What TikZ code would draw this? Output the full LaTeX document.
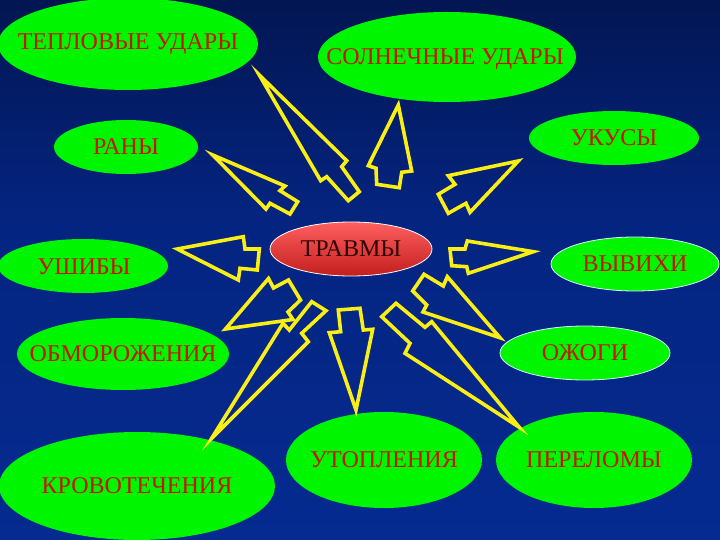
\documentclass[tikz,border=0pt]{standalone}
\usepackage{fontspec}
\setmainfont{Liberation Serif}
\usetikzlibrary{shapes.geometric}
\definecolor{gr}{RGB}{0,245,0}
\definecolor{txt}{RGB}{200,20,0}
\definecolor{yl}{RGB}{250,238,20}
\definecolor{bgtop}{RGB}{0,4,24}
\definecolor{bgmid}{RGB}{4,36,128}
\definecolor{bgbot}{RGB}{6,48,158}
\definecolor{redtop}{RGB}{255,95,95}
\definecolor{redbot}{RGB}{195,30,30}
\definecolor{dtxt}{RGB}{50,0,0}
\pgfdeclareverticalshading{bgsh}{100bp}{color(0bp)=(bgbot); color(55bp)=(bgmid); color(100bp)=(bgtop)}
\begin{document}
\begin{tikzpicture}[x=1pt,y=-1pt,
  blob/.style={ellipse, fill=gr, inner sep=0pt},
  lbl/.style={text=txt, font=\fontsize{24}{26}\selectfont, inner sep=0pt},
  rim/.style={draw=white!85!cyan, line width=0.8pt},
  arr/.style={draw=yl, line width=3.6pt, line join=miter}]
\useasboundingbox (0,0) rectangle (720,540);
\shade[shading=bgsh] (0,0) rectangle (720,540);

% outer ellipses
\node[blob, minimum width=260pt, minimum height=92pt] (teplo) at (128,44) {};
\node[lbl] (teploT) at (teplo) {ТЕПЛОВЫЕ УДАРЫ};
\node[blob, minimum width=258pt, minimum height=90pt] (soln) at (447,57) {};
\node[lbl] (solnT) at (445,59) {СОЛНЕЧНЫЕ УДАРЫ};
\node[blob, minimum width=144pt, minimum height=54pt] (rany) at (126,147) {};
\node[lbl] (ranyT) at (rany) {РАНЫ};
\node[blob, minimum width=170pt, minimum height=54pt] (ukus) at (614,138) {};
\node[lbl] (ukusT) at (ukus) {УКУСЫ};
\node[blob, minimum width=170pt, minimum height=54pt] (ushib) at (83,266) {};
\node[lbl] (ushibT) at (84,267) {УШИБЫ};
\node[blob, rim, minimum width=168pt, minimum height=54pt] (vyvih) at (635,264) {};
\node[lbl] (vyvihT) at (vyvih) {ВЫВИХИ};
\node[blob, minimum width=212pt, minimum height=72pt] (obmor) at (123,354) {};
\node[lbl] (obmorT) at (obmor) {ОБМОРОЖЕНИЯ};
\node[blob, rim, minimum width=170pt, minimum height=54pt] (ozhog) at (585,353) {};
\node[lbl] (ozhogT) at (ozhog) {ОЖОГИ};
\node[blob, minimum width=196pt, minimum height=96pt] (utop) at (384,460) {};
\node[lbl] (utopT) at (utop) {УТОПЛЕНИЯ};
\node[blob, minimum width=196pt, minimum height=96pt] (perel) at (594,460) {};
\node[lbl] (perelT) at (perel) {ПЕРЕЛОМЫ};
\node[blob, minimum width=276pt, minimum height=108pt] (krov) at (137,486) {};
\node[lbl] (krovT) at (krov) {КРОВОТЕЧЕНИЯ};

% centre
\node[ellipse, draw=white, line width=0.8pt, top color=redtop, bottom color=redbot,
      text=dtxt, font=\fontsize{24}{26}\selectfont, inner sep=0pt,
      minimum width=162pt, minimum height=54pt] (travmy) at (351,249) {ТРАВМЫ};

% block arrows
\draw[arr] (259.3,75) -- (346.7,160.7) -- (341.7,166.7) -- (359.3,191.7) -- (348.3,200.7) -- (326.7,176.7) -- (320.7,180.7) -- cycle;
\draw[arr] (398.3,105) -- (411.7,171) -- (401.7,172.3) -- (399.3,187.7) -- (376.7,184.3) -- (376,168.3) -- (368.3,165.7) -- cycle;
\draw[arr] (212.7,155) -- (285,186) -- (280,190.7) -- (297.7,201.7) -- (290,214) -- (270,203.3) -- (266,209) -- cycle;
\draw[arr] (518.3,161) -- (448.3,175.7) -- (455,184.3) -- (438.3,194.3) -- (448.3,213.3) -- (466,203.3) -- (470,212.3) -- cycle;
\draw[arr] (177.3,249) -- (243.3,236.7) -- (245,249) -- (259.3,249) -- (257.3,270) -- (240,268.3) -- (238.3,280) -- cycle;
\draw[arr] (533.3,251.7) -- (467.3,241) -- (465,249) -- (450,249) -- (451.7,265.7) -- (466.7,266.7) -- (468.3,273.3) -- cycle;
\draw[arr] (225.5,329) -- (268.5,278.5) -- (273.5,288) -- (288.5,280) -- (300.5,300) -- (288,312) -- (293,319.5) -- cycle;
\draw[arr] (211.7,438.3) -- (283,323.3) -- (289.3,330) -- (311.7,301.7) -- (326,310.7) -- (301.7,333.3) -- (308.3,341.7) -- cycle;
\draw[arr] (356,410) -- (329.3,332.7) -- (340.7,331.7) -- (338.3,310) -- (360,308.3) -- (363.3,330) -- (372.7,329.3) -- cycle;
\draw[arr] (500,337.7) -- (447.3,276.7) -- (443.3,286) -- (424,274.3) -- (412.7,291) -- (426.7,305) -- (423,312) -- cycle;
\draw[arr] (519.3,427.3) -- (405,353.3) -- (410,343.3) -- (381.7,316.7) -- (396,303.3) -- (425,327.3) -- (431.7,321.7) -- cycle;
\end{tikzpicture}
\end{document}
